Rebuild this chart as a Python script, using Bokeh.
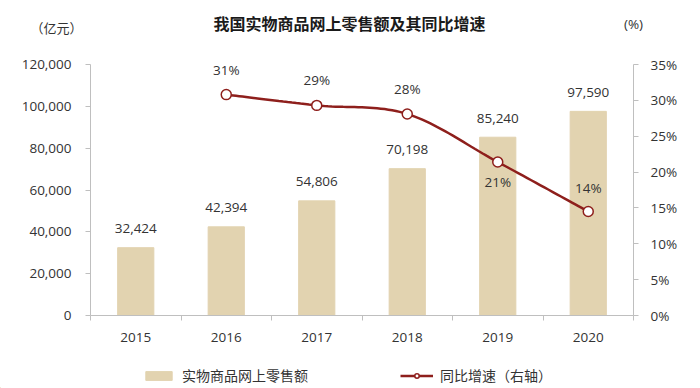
from bokeh.plotting import figure
from bokeh.layouts import column
from bokeh.models import (Range1d, LinearAxis, FixedTicker, NumeralTickFormatter,
                          Label, Legend, LegendItem, ColumnDataSource)
from bokeh.core.properties import value
from bokeh.embed import file_html
from bokeh.resources import INLINE

# ---------------- data ----------------
years = ["2015", "2016", "2017", "2018", "2019", "2020"]
sales = [32424, 42394, 54806, 70198, 85240, 97590]
sales_labels = ["32,424", "42,394", "54,806", "70,198", "85,240", "97,590"]
growth_years = ["2016", "2017", "2018", "2019", "2020"]
growth = [30.8, 29.3, 28.1, 21.4, 14.5]
growth_labels = ["31%", "29%", "28%", "21%", "14%"]
left_ticks = [0, 20000, 40000, 60000, 80000, 100000, 120000]
right_ticks = [0, 5, 10, 15, 20, 25, 30, 35]
LEFT_MAX, RIGHT_MAX = 120000, 35

title_text = "我国实物商品网上零售额及其同比增速"
left_unit = "（亿元）"
right_unit = "(%)"
bar_name = "实物商品网上零售额"
line_name = "同比增速（右轴）"

# ---------------- style ----------------
BAR = "#E2D3B0"
RED = "#8E1F1C"
AXIS = "#BFBFBF"
TXT = "#333333"
NUM_FONT = "Open Sans"
CJK_FONT = "Noto Sans CJK SC"

W, H = 700, 388
TH = 36                    # title strip height
LEG_H = 36                 # legend strip height
H1 = H - TH - LEG_H        # main chart height
FX0, FX1 = 90, 633         # frame left / right (page px)
TOP_PX, ZERO_PX = 64, 315  # page rows of the top tick and of zero
MT = 2
ML, MR, MB = FX0, W - FX1, TH + H1 - ZERO_PX

scale = (ZERO_PX - TH - MT) / (ZERO_PX - TOP_PX)
xs = list(range(len(years)))
gx = [years.index(y) for y in growth_years]


def bare(fig):
    fig.outline_line_color = None
    fig.xgrid.grid_line_color = None
    fig.ygrid.grid_line_color = None
    fig.background_fill_color = "white"
    fig.border_fill_color = "white"


# ---------------- title strip ----------------
t = figure(width=W, height=TH, output_backend="svg", toolbar_location=None,
           x_range=Range1d(0, W), y_range=Range1d(0, TH),
           x_axis_type=None, y_axis_type=None, frame_align=False,
           min_border_left=0, min_border_right=0, min_border_top=0, min_border_bottom=0)
bare(t)
t.add_layout(Label(x=349, y=TH - 22, text=title_text,
                   text_align="center", text_baseline="middle",
                   text_font=CJK_FONT, text_font_size="16px", text_font_style="bold",
                   text_color="#1a1a1a"))
t.add_layout(Label(x=56, y=TH - 27, text=left_unit,
                   text_align="center", text_baseline="middle",
                   text_font=CJK_FONT, text_font_size="13px", text_color=TXT))
t.add_layout(Label(x=633, y=TH - 23, text=right_unit,
                   text_align="center", text_baseline="middle",
                   text_font=NUM_FONT, text_font_size="13.5px", text_color=TXT))

# ---------------- main chart ----------------
p = figure(width=W, height=H1, output_backend="svg", toolbar_location=None,
           x_range=Range1d(-0.5, len(years) - 0.5),
           y_range=Range1d(0, LEFT_MAX * scale),
           min_border_left=ML, min_border_right=MR,
           min_border_top=MT, min_border_bottom=MB)
p.extra_y_ranges = {"pct": Range1d(0, RIGHT_MAX * scale)}
bare(p)

# left axis
ya = p.yaxis[0]
ya.ticker = FixedTicker(ticks=left_ticks)
ya.bounds = (0, LEFT_MAX)
ya.formatter = NumeralTickFormatter(format="0,0")
ya.axis_line_color = AXIS
ya.major_tick_line_color = AXIS
ya.major_tick_out = 5
ya.major_tick_in = 0
ya.minor_tick_line_color = None
ya.major_label_standoff = 14
ya.major_label_text_font = NUM_FONT
ya.major_label_text_font_size = "13.5px"
ya.major_label_text_color = TXT

# right axis
ra = LinearAxis(y_range_name="pct", ticker=FixedTicker(ticks=right_ticks), bounds=(0, RIGHT_MAX))
ra.major_label_overrides = {tk: f"{tk}%" for tk in right_ticks}
ra.axis_line_color = AXIS
ra.major_tick_line_color = AXIS
ra.major_tick_out = 5
ra.major_tick_in = 0
ra.minor_tick_line_color = None
ra.major_label_standoff = 12
ra.major_label_text_font = NUM_FONT
ra.major_label_text_font_size = "13.5px"
ra.major_label_text_color = TXT
p.add_layout(ra, "right")

# x axis
xa = p.xaxis[0]
xa.ticker = FixedTicker(ticks=xs, minor_ticks=[i - 0.5 for i in range(len(years) + 1)])
xa.major_label_overrides = {i: y for i, y in enumerate(years)}
xa.axis_line_color = AXIS
xa.major_tick_line_color = None
xa.major_tick_out = 5
xa.minor_tick_line_color = AXIS
xa.minor_tick_out = 5
xa.minor_tick_in = 0
xa.major_label_standoff = 12
xa.major_label_text_font = NUM_FONT
xa.major_label_text_font_size = "13.5px"
xa.major_label_text_color = TXT

# bars
bsrc = ColumnDataSource(dict(x=xs, top=sales, lab=sales_labels))
p.vbar(x="x", top="top", width=0.4, source=bsrc, fill_color=BAR, line_color=BAR)
p.text(x="x", y="top", text="lab", source=bsrc, y_offset=-19,
       text_align="center", text_baseline="middle",
       text_font=value(NUM_FONT), text_font_size="13.5px", text_color=TXT)

# smoothed line (Catmull-Rom through the data points, as Excel smoothing)
def smooth(px, py, n=24):
    P = list(zip(px, py))
    P = [P[0]] + P + [P[-1]]
    ox, oy = [], []
    for i in range(1, len(P) - 2):
        p0, p1, p2, p3 = P[i - 1], P[i], P[i + 1], P[i + 2]
        for k in range(n + (1 if i == len(P) - 3 else 0)):
            s = k / n
            s2, s3 = s * s, s * s * s
            def cr(a, b, c, d):
                return 0.5 * ((2 * b) + (-a + c) * s + (2 * a - 5 * b + 4 * c - d) * s2
                              + (-a + 3 * b - 3 * c + d) * s3)
            ox.append(cr(p0[0], p1[0], p2[0], p3[0]))
            oy.append(cr(p0[1], p1[1], p2[1], p3[1]))
    return ox, oy

cx, cy = smooth(gx, growth)
p.line(cx, cy, y_range_name="pct", line_color=RED, line_width=2.5)
gsrc = ColumnDataSource(dict(x=gx, y=growth, lab=growth_labels,
                             off=[-25, -25, -25, 20, -24]))
p.scatter(x="x", y="y", source=gsrc, y_range_name="pct", size=10,
          fill_color="white", line_color=RED, line_width=1.5)
p.text(x="x", y="y", text="lab", source=gsrc, y_range_name="pct", y_offset="off",
       text_align="center", text_baseline="middle",
       text_font=value(NUM_FONT), text_font_size="13.5px", text_color=TXT)

# ---------------- legend strip ----------------
q = figure(width=W, height=LEG_H, output_backend="svg", toolbar_location=None,
           x_range=Range1d(0, W), y_range=Range1d(0, LEG_H),
           x_axis_type=None, y_axis_type=None, frame_align=False,
           min_border_left=0, min_border_right=0, min_border_top=0, min_border_bottom=0)
bare(q)
# legend proxies: kept outside the visible range, only their styles are shown
lb = q.vbar(x=[-100], top=[1], width=1, fill_color=BAR, line_color=BAR)
ll = q.line(x=[-100, -99], y=[1, 1], line_color=RED, line_width=2.5)
lp = q.scatter(x=[-100], y=[1], size=10, fill_color="white", line_color=RED, line_width=1.5)
legend = Legend(items=[LegendItem(label=bar_name, renderers=[lb]),
                       LegendItem(label=line_name, renderers=[ll, lp])],
                orientation="horizontal", location=(142, 3),
                border_line_color=None, background_fill_alpha=0,
                padding=0, margin=0, spacing=92,
                glyph_width=33, glyph_height=11, label_standoff=7,
                label_text_font=CJK_FONT, label_text_font_size="14px",
                label_text_color=TXT)
q.add_layout(legend, "center")

layout = column(t, p, q, spacing=0)
open("out.html", "w").write(file_html(layout, INLINE))
